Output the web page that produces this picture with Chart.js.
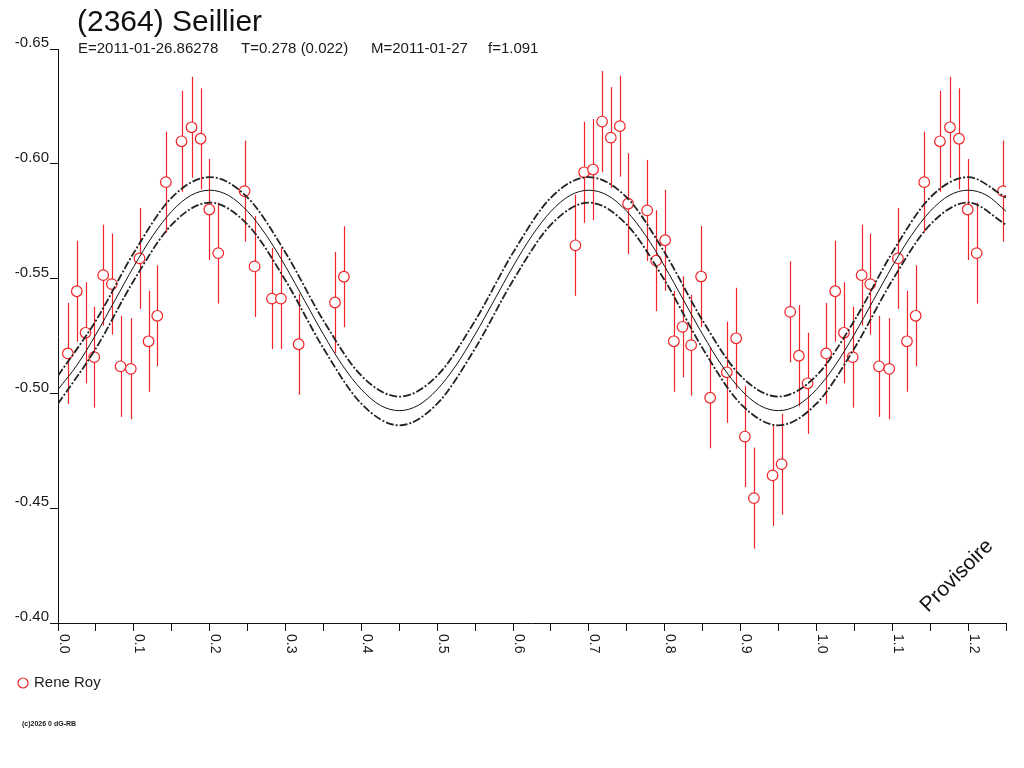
<!DOCTYPE html>
<html><head><meta charset="utf-8">
<script src="https://cdn.jsdelivr.net/npm/chart.js@4/dist/chart.umd.min.js"></script>
<style>html,body{margin:0;padding:0;background:#fff;}canvas{display:block;}</style>
</head><body>
<canvas id="c" width="1024" height="768"></canvas>
<script>
// Observations (phase, reduced magnitude, error)
const obsPhase = [0.0129,0.0248,0.0363,0.0478,0.0596,0.0710,0.0825,0.0960,0.1075,0.1194,0.1309,0.1422,0.1629,0.1761,0.1880,0.1995,0.2113,0.2460,0.2592,0.2821,0.2939,0.3173,0.3652,0.3770,
                  0.6823,0.6937,0.7055,0.7174,0.7289,0.7408,0.7517,0.7768,0.7887,0.8005,0.8120,0.8235,0.8348,0.8480,0.8599,0.8819,0.8942,0.9057,0.9176,0.9422,0.9541,0.9654,0.9769,0.9884];
const obsMag = [-0.5174,-0.5445,-0.5264,-0.5158,-0.5515,-0.5476,-0.5118,-0.5107,-0.5588,-0.5227,-0.5338,-0.5920,-0.6098,-0.6159,-0.6109,-0.5801,-0.5611,-0.5881,-0.5553,-0.5413,-0.5413,-0.5214,-0.5396,-0.5508,
                -0.5645,-0.5963,-0.5975,-0.6184,-0.6114,-0.6164,-0.5826,-0.5797,-0.5578,-0.5667,-0.5227,-0.5290,-0.5210,-0.5509,-0.4981,-0.5092,-0.5240,-0.4812,-0.4544,-0.4643,-0.4692,-0.5355,-0.5164,-0.5044];
const obsErr = [0.022,0.022,0.022,0.022,0.022,0.022,0.022,0.022,0.022,0.022,0.022,0.022,0.022,0.022,0.022,0.022,0.022,0.022,0.022,0.022,0.022,0.022,0.022,0.022,
                0.022,0.022,0.022,0.022,0.022,0.022,0.022,0.022,0.022,0.022,0.022,0.022,0.022,0.022,0.022,0.022,0.022,0.022,0.022,0.022,0.022,0.022,0.022,0.022];
const repeatBelow = 0.25; // phases below this are shown again at phase+1

// Fitted curve
const fitPhase = [0.000,0.025,0.050,0.075,0.100,0.125,0.150,0.175,0.200,0.225,0.250,0.275,0.300,0.325,0.350,0.375,0.400,0.425,0.450,0.475,
                  0.500,0.525,0.550,0.575,0.600,0.625,0.650,0.675,0.700,0.725,0.750,0.775,0.800,0.825,0.850,0.875,0.900,0.925,0.950,0.975,
                  1.000,1.025,1.050,1.075,1.100,1.125,1.150,1.175,1.200,1.225,1.250];
const fitMag = [-0.5017,-0.5123,-0.5257,-0.5405,-0.5553,-0.5687,-0.5793,-0.5862,-0.5885,-0.5862,-0.5793,-0.5687,-0.5553,-0.5405,-0.5257,-0.5123,-0.5017,-0.4948,-0.4925,-0.4948,
                -0.5017,-0.5123,-0.5257,-0.5405,-0.5553,-0.5687,-0.5793,-0.5862,-0.5885,-0.5862,-0.5793,-0.5687,-0.5553,-0.5405,-0.5257,-0.5123,-0.5017,-0.4948,-0.4925,-0.4948,
                -0.5017,-0.5123,-0.5257,-0.5405,-0.5553,-0.5687,-0.5793,-0.5862,-0.5885,-0.5862,-0.5793];
// Uncertainty band (dashed curves)
const bandPhase = [0.00,0.05,0.10,0.15,0.20,0.25,0.30,0.35,0.40,0.45,0.50,0.55,0.60,0.65,0.70,0.75,0.80,0.85,0.90,0.95,1.00,1.05,1.10,1.15,1.20,1.25];
const bandUpper = [-0.5077,-0.5317,-0.5613,-0.5853,-0.5942,-0.5853,-0.5613,-0.5317,-0.5077,-0.4986,
                   -0.5077,-0.5317,-0.5613,-0.5853,-0.5942,-0.5853,-0.5613,-0.5317,-0.5077,-0.4986,
                   -0.5077,-0.5317,-0.5613,-0.5853,-0.5942,-0.5853];
const bandLower = [-0.4955,-0.5196,-0.5492,-0.5735,-0.5831,-0.5735,-0.5492,-0.5196,-0.4955,-0.4861,
                   -0.4955,-0.5196,-0.5492,-0.5735,-0.5831,-0.5735,-0.5492,-0.5196,-0.4955,-0.4861,
                   -0.4955,-0.5196,-0.5492,-0.5735,-0.5831,-0.5735];

const xTickValues = [0.0,0.1,0.2,0.3,0.4,0.5,0.6,0.7,0.8,0.9,1.0,1.1,1.2];
const xTickLabels = ['0.0','0.1','0.2','0.3','0.4','0.5','0.6','0.7','0.8','0.9','1.0','1.1','1.2'];

const titleText = '(2364) Seillier';
const subtitleParts = [['E=2011-01-26.86278',78],['T=0.278 (0.022)',241],['M=2011-01-27',371],['f=1.091',488]];
const observerName = 'Rene Roy';
const stampText = 'Provisoire';
const copyrightText = '(c)2026 0 dG-RB';

const RED = 'rgb(240,36,40)';
const INK = '#1a1a1a';
const FONT = "'Liberation Sans', Arial, sans-serif";

// build points
const pts = [];
const errs = [];
obsPhase.forEach((p,i)=>{
  pts.push({x:p, y:obsMag[i]}); errs.push(obsErr[i]);
  if (p < repeatBelow) { pts.push({x:p+1, y:obsMag[i]}); errs.push(obsErr[i]); }
});
const fitData = fitPhase.map((p,i)=>({x:p,y:fitMag[i]}));
const upData = bandPhase.map((p,i)=>({x:p,y:bandUpper[i]}));
const loData = bandPhase.map((p,i)=>({x:p,y:bandLower[i]}));

const decor = {
  id:'decor',
  beforeDatasetsDraw(chart){
    const ctx = chart.ctx, xs = chart.scales.x, ys = chart.scales.y, a = chart.chartArea;
    ctx.save();
    ctx.beginPath(); ctx.rect(a.left, a.top, a.right-a.left, a.bottom-a.top); ctx.clip();
    ctx.strokeStyle = RED; ctx.lineWidth = 1.2;
    pts.forEach((pt,i)=>{
      const px = Math.round(xs.getPixelForValue(pt.x)) + 0.5;
      ctx.beginPath();
      ctx.moveTo(px, ys.getPixelForValue(pt.y - errs[i]));
      ctx.lineTo(px, ys.getPixelForValue(pt.y + errs[i]));
      ctx.stroke();
    });
    ctx.restore();
  },
  afterDraw(chart){
    const ctx = chart.ctx, xs = chart.scales.x, a = chart.chartArea;
    ctx.save();
    // x tick labels rotated clockwise
    ctx.fillStyle = INK;
    ctx.font = "14px " + FONT;
    ctx.textAlign = 'left'; ctx.textBaseline = 'alphabetic';
    xTickValues.forEach((v,i)=>{
      const px = xs.getPixelForValue(v);
      ctx.save();
      ctx.translate(px + 1.5, a.bottom + 11);
      ctx.rotate(Math.PI/2);
      ctx.fillText(xTickLabels[i], 0, 0);
      ctx.restore();
    });
    // title
    ctx.fillStyle = '#111';
    ctx.font = "30px " + FONT;
    ctx.fillText(titleText, 77, 31);
    ctx.fillStyle = INK;
    ctx.font = "15px " + FONT;
    subtitleParts.forEach(([t,x])=>ctx.fillText(t, x, 53));
    // legend
    ctx.strokeStyle = RED; ctx.lineWidth = 1.2;
    ctx.beginPath(); ctx.arc(23, 683, 5, 0, Math.PI*2); ctx.stroke();
    ctx.fillStyle = INK; ctx.font = "15px " + FONT; ctx.textBaseline = 'middle';
    ctx.fillText(observerName, 34, 683);
    // copyright
    ctx.font = "bold 7px " + FONT;
    ctx.fillText(copyrightText, 22, 724);
    // stamp
    ctx.save();
    ctx.translate(957, 576); ctx.rotate(-Math.PI/4);
    ctx.font = "21px " + FONT; ctx.textAlign = 'center'; ctx.fillStyle = '#111';
    ctx.fillText(stampText, 0, 0);
    ctx.restore();
    ctx.restore();
  }
};

new Chart(document.getElementById('c'), {
  type:'scatter',
  data:{datasets:[
    {type:'line', data:fitData, borderColor:'#111', borderWidth:1, pointRadius:0, fill:false, cubicInterpolationMode:'monotone'},
    {type:'line', data:upData, borderColor:'#222', borderWidth:1.8, borderDash:[8,2,2,2], pointRadius:0, fill:false, cubicInterpolationMode:'monotone'},
    {type:'line', data:loData, borderColor:'#222', borderWidth:1.8, borderDash:[8,2,2,2], pointRadius:0, fill:false, cubicInterpolationMode:'monotone'},
    {type:'scatter', data:pts, pointRadius:5.3, pointHoverRadius:5.3, pointBorderColor:RED, pointBackgroundColor:'#fff', pointBorderWidth:1.2}
  ]},
  options:{
    responsive:false, animation:false, devicePixelRatio:1,
    layout:{padding:{top:49, right:18, left:0, bottom:0}},
    plugins:{legend:{display:false}, tooltip:{enabled:false}, title:{display:false}},
    scales:{
      x:{type:'linear', min:0, max:1.25,
         ticks:{display:false, stepSize:0.05},
         grid:{display:true, drawOnChartArea:false, drawTicks:true, tickLength:8, color:'#111', lineWidth:1},
         border:{display:true, color:'#111', width:1},
         afterFit(s){ s.height = 145; }},
      y:{type:'linear', reverse:true, min:-0.65, max:-0.40,
         ticks:{stepSize:0.05, callback:(v)=>v.toFixed(2), font:{family:'Liberation Sans', size:15}, color:INK, labelOffset:-6, padding:1},
         grid:{display:true, drawOnChartArea:false, drawTicks:true, tickLength:8, color:'#111', lineWidth:1},
         border:{display:true, color:'#111', width:1},
         afterFit(s){ s.width = 58; }}
    }
  },
  plugins:[decor]
});
</script>
</body></html>
